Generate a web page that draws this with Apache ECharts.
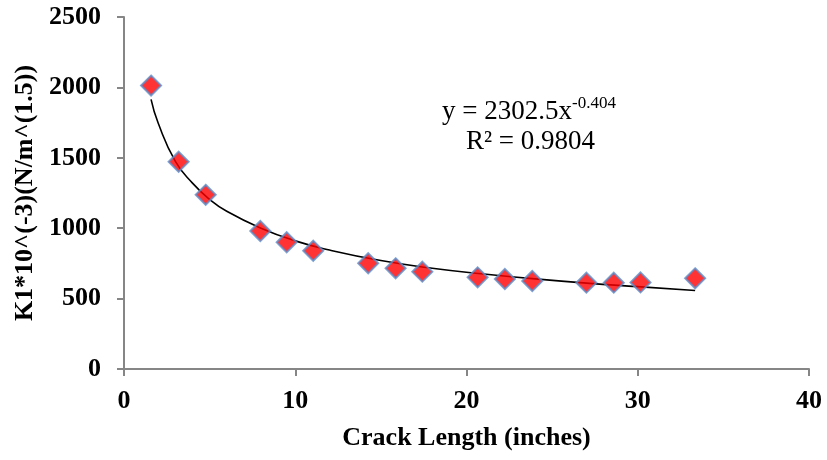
<!DOCTYPE html>
<html>
<head>
<meta charset="utf-8">
<script src="https://cdn.jsdelivr.net/npm/echarts@6/dist/echarts.min.js"></script>
<style>
  html, body { margin: 0; padding: 0; background: #fff; }
  #chart { width: 827px; height: 460px; }
</style>
</head>
<body>
<div id="chart"></div>
<script>
// crack length (inches) and K1 values
const crackLength = [1.58, 3.19, 4.77, 7.96, 9.5, 11.05, 14.26, 15.86, 17.42, 20.65, 22.24, 23.84, 27.0, 28.6, 30.16, 33.35]
const k1Values = [2013, 1472, 1237, 980, 900, 840, 751, 715, 691, 651, 639, 625, 613, 613, 615, 644]

// power trendline, points
const trendX = [1.58, 2, 3, 4, 5, 6, 8, 10, 12, 15, 18, 21, 24, 27, 30, 33.35]
const trendY = [1915, 1745, 1475, 1320, 1205, 1120, 1000, 910, 845, 770, 715, 675, 640, 610, 585, 558]

const xTicks = { min: 0, max: 40, interval: 10 }
const yTicks = { min: 0, max: 2500, interval: 500 }

const chart = echarts.init(document.getElementById('chart'))
const serif = '"Liberation Serif", "Times New Roman", serif'
const axisGray = '#868686'

chart.setOption({
  animation: false,
  grid: {
    left: 124,
    right: 18,
    top: 17,
    bottom: 91,
  },
  xAxis: {
    type: 'value',
    min: xTicks.min,
    max: xTicks.max,
    interval: xTicks.interval,
    name: 'Crack Length (inches)',
    nameLocation: 'middle',
    nameGap: 56,
    nameTextStyle: { fontFamily: serif, fontWeight: 'bold', fontSize: 26, color: '#000' },
    axisLine: { lineStyle: { color: axisGray, width: 2 } },
    axisTick: { show: true, length: 7, lineStyle: { color: axisGray, width: 2 } },
    axisLabel: { fontFamily: serif, fontWeight: 'bold', fontSize: 26, color: '#000', margin: 19, formatter: v => String(v) },
    splitLine: { show: false },
  },
  yAxis: {
    type: 'value',
    min: yTicks.min,
    max: yTicks.max,
    interval: yTicks.interval,
    name: 'K1*10^(-3)(N/m^(1.5))',
    nameLocation: 'middle',
    nameGap: 86,
    nameTextStyle: { fontFamily: serif, fontWeight: 'bold', fontSize: 26, color: '#000' },
    axisLine: { show: true, lineStyle: { color: axisGray, width: 2 } },
    axisTick: { show: true, length: 7, lineStyle: { color: axisGray, width: 2 } },
    axisLabel: { fontFamily: serif, fontWeight: 'bold', fontSize: 26, color: '#000', margin: 23, formatter: v => String(v) },
    splitLine: { show: false },
  },
  graphic: [
    {
      type: 'text',
      left: 442,
      top: 95,
      style: {
        text: '{a|y = 2302.5x}{s|-0.404}',
        rich: {
          a: { fontFamily: serif, fontSize: 27, fill: '#000', verticalAlign: 'bottom', lineHeight: 30 },
          s: { fontFamily: serif, fontSize: 17, fill: '#000', verticalAlign: 'top', lineHeight: 30, padding: [0, 0, 12, 0] },
        },
      },
    },
    {
      type: 'text',
      left: 466,
      top: 128,
      style: { text: 'R² = 0.9804', fontFamily: serif, fontSize: 27, fill: '#000' },
    },
  ],
  series: [
    {
      name: 'Trendline',
      type: 'line',
      data: trendX.map((x, i) => [x, trendY[i]]),
      smooth: true,
      showSymbol: false,
      lineStyle: { color: '#000', width: 1.6 },
      z: 1,
    },
    {
      name: 'K1',
      type: 'scatter',
      data: crackLength.map((x, i) => [x, k1Values[i]]),
      symbol: 'diamond',
      symbolSize: [20, 20],
      itemStyle: { color: '#FF0000', borderColor: '#5B8CC8', borderWidth: 2 },
      z: 2,
    },
  ],
})
</script>
</body>
</html>
